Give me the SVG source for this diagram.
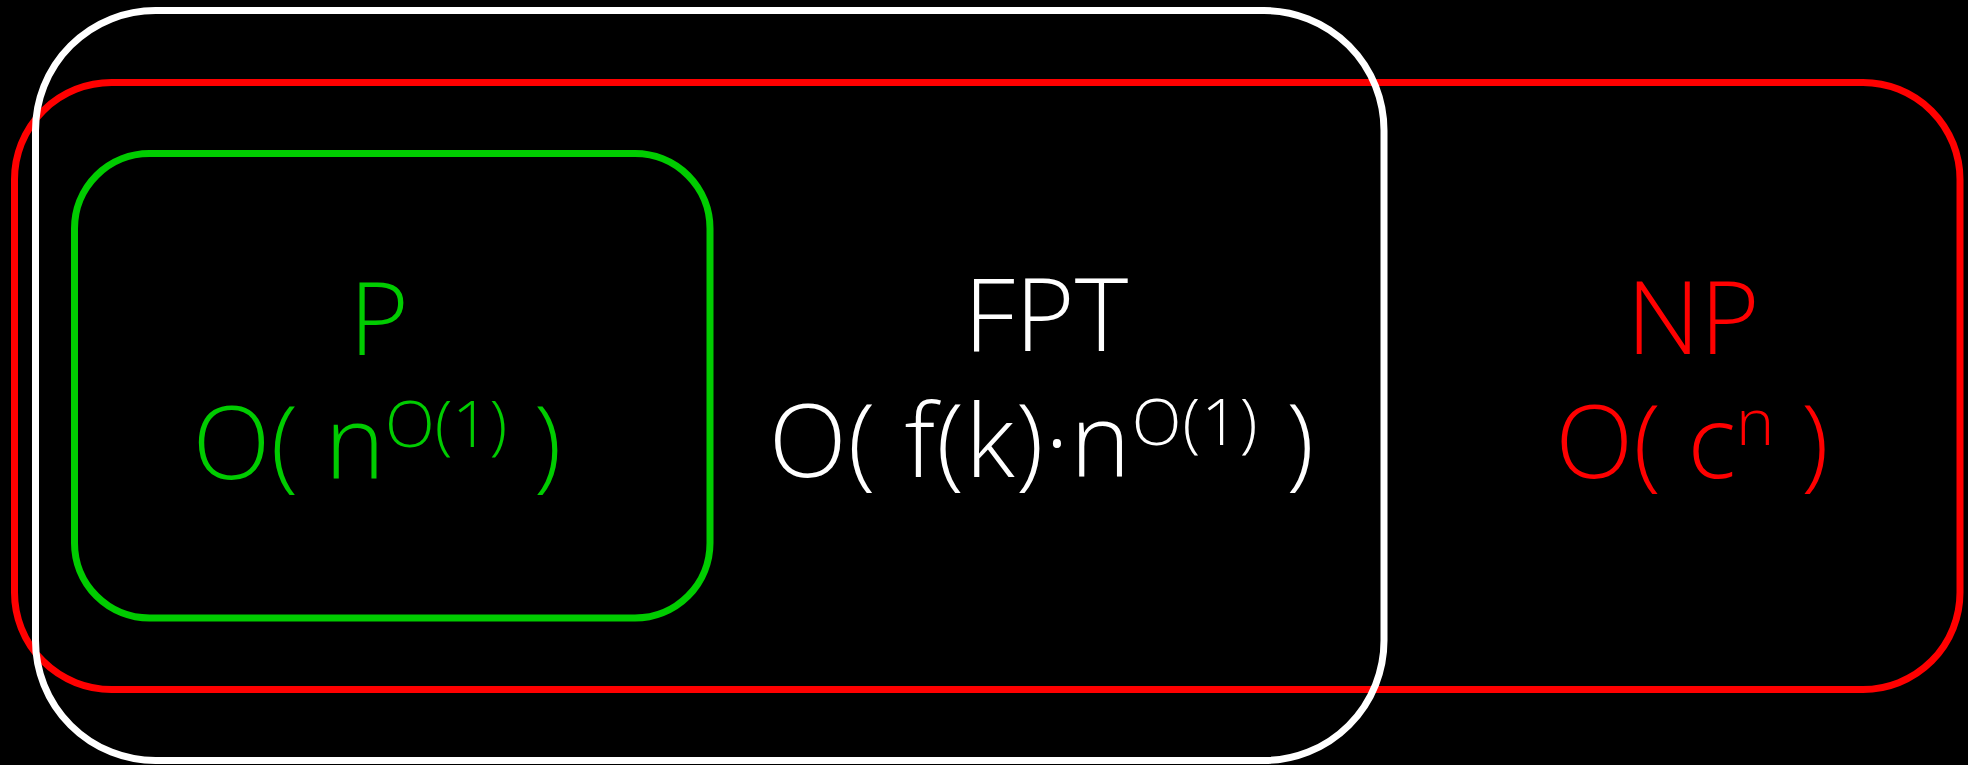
<svg xmlns="http://www.w3.org/2000/svg" width="1968" height="765" viewBox="0 0 1968 765">
<style>
.box{fill:none;stroke-width:7}
.lbl{font-family:"Open Sans","Noto Sans","Liberation Sans",sans-serif;font-weight:300;font-size:102px;text-anchor:middle}
.sup{font-size:65px}
</style>
<rect width="1968" height="765" fill="#000"/>
<g id="NP">
<rect class="box" x="14.5" y="82.5" width="1945.5" height="607" rx="97" ry="97" stroke="#ff0000"/>
<text class="lbl" fill="#ff0000" x="1693" y="354">NP</text>
<text class="lbl" fill="#ff0000" x="1692" y="478">O( c<tspan class="sup" dy="-33">n</tspan><tspan dy="33"> )</tspan></text>
</g>
<g id="P">
<rect class="box" x="74.5" y="153.5" width="635.5" height="464.5" rx="75" ry="75" stroke="#00cc00"/>
<text class="lbl" fill="#00cc00" x="379" y="355">P</text>
<text class="lbl" fill="#00cc00" x="377" y="479">O( n<tspan class="sup" dy="-32">O(1)</tspan><tspan dy="32"> )</tspan></text>
</g>
<g id="FPT">
<rect class="box" x="35.5" y="10.5" width="1348.5" height="750" rx="120" ry="120" stroke="#ffffff"/>
<text class="lbl" fill="#ffffff" x="1046" y="351">FPT</text>
<text class="lbl" fill="#ffffff" x="1042" y="477" letter-spacing="1.2">O( f(k)·n<tspan class="sup" dy="-32">O(1)</tspan><tspan dy="32"> )</tspan></text>
</g>
<g id="connectors"/>
</svg>
